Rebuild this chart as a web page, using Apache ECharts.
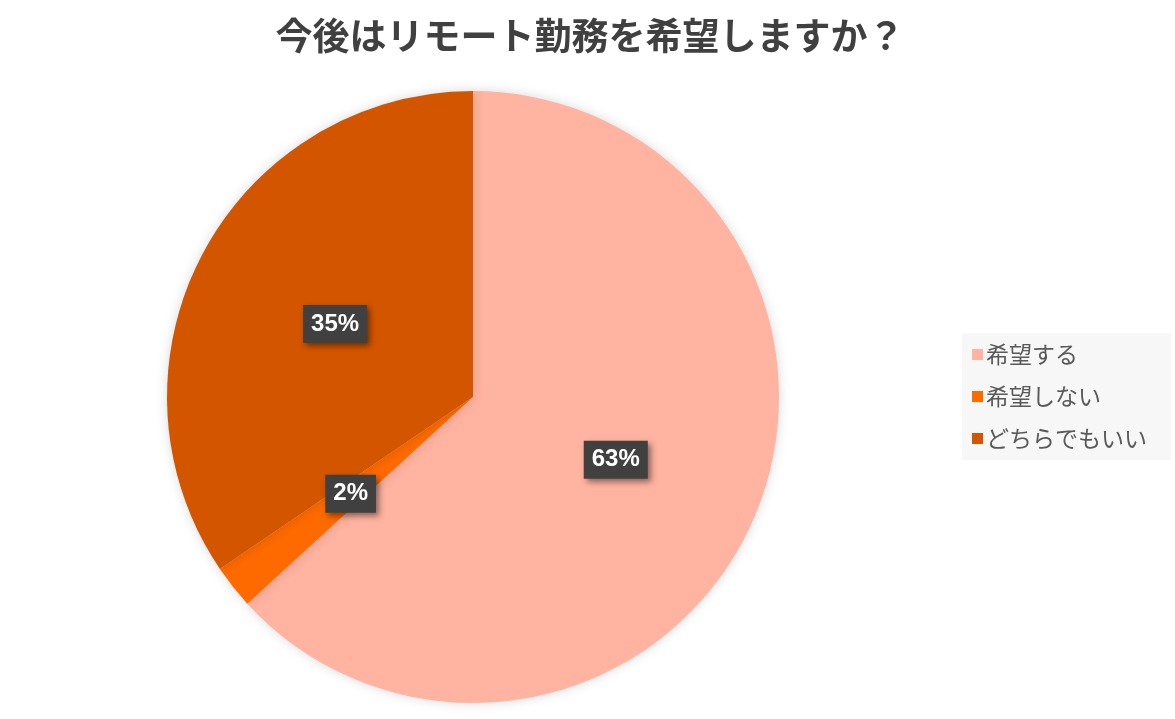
<!DOCTYPE html>
<html><head><meta charset="utf-8">
<script src="https://cdn.jsdelivr.net/npm/echarts@6/dist/echarts.min.js"></script>
<style>html,body{margin:0;padding:0;background:#fff}#c{width:1175px;height:719px}</style>
</head><body><div id="c"></div>
<script>
const categories = ['希望する', '希望しない', 'どちらでもいい'];
const values = [63.2, 2.3, 34.5];
const colors = ['#FFB3A0', '#FF6A00', '#D35500'];

const chart = echarts.init(document.getElementById('c'));
chart.setOption({
  backgroundColor: '#fff',
  title: {
    text: '今後はリモート勤務を希望しますか？',
    left: 585, top: 12, textAlign: 'center',
    textStyle: { fontFamily: 'Noto Sans CJK JP', fontSize: 37, fontWeight: 'bold', color: '#404040' }
  },
  legend: {
    orient: 'vertical',
    left: 962, top: 333,
    backgroundColor: '#F7F7F7',
    padding: [10, 24, 10, 10],
    itemWidth: 11, itemHeight: 11, itemGap: 19,
    icon: 'rect',
    textStyle: { fontFamily: 'Noto Sans CJK JP', fontSize: 23, color: '#595959', padding: [0, 0, 0, -2] },
    data: categories
  },
  series: [{
    type: 'pie',
    center: [473, 397],
    radius: 306,
    startAngle: 90,
    clockwise: true,
    animation: false,
    itemStyle: { shadowBlur: 12, shadowColor: 'rgba(0,0,0,0.15)' },
    label: {
      position: 'inside',
      formatter: p => Math.round(p.value) + '%',
      fontFamily: 'Liberation Sans', fontSize: 24, fontWeight: 'bold', color: '#fff',
      backgroundColor: '#404040', padding: [8, 8, 6, 8],
      shadowBlur: 6, shadowColor: 'rgba(0,0,0,0.45)', shadowOffsetX: 3, shadowOffsetY: 3
    },
    labelLine: { show: false },
    data: categories.map((n, i) => ({ name: n, value: values[i], itemStyle: { color: colors[i] } }))
  }]
});
</script></body></html>
